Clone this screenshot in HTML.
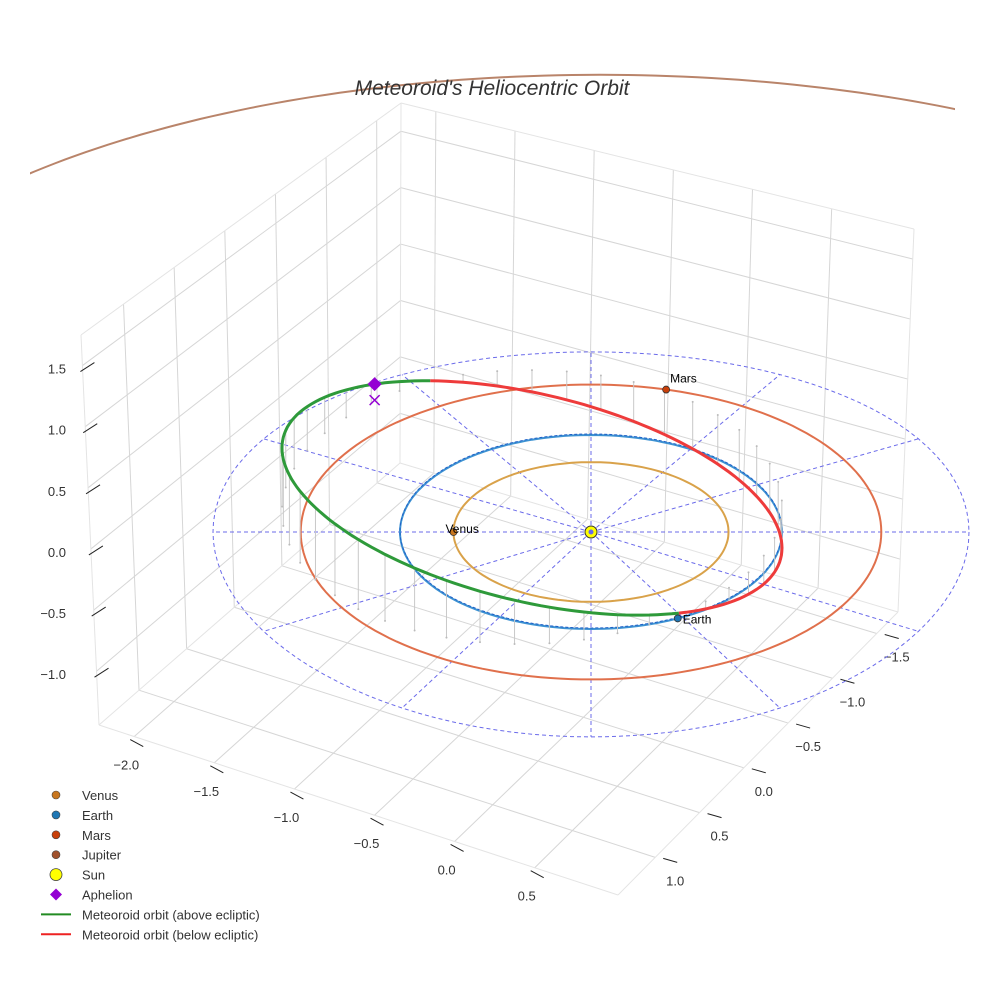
<!DOCTYPE html>
<html><head><meta charset="utf-8">
<style>
html,body{margin:0;padding:0;background:#fff;}
svg{display:block;font-family:"Liberation Sans",sans-serif;}
</style></head>
<body>
<svg id="chart" width="984" height="984" viewBox="0 0 984 984" xmlns="http://www.w3.org/2000/svg">
<rect width="984" height="984" fill="#fff"/>
<g id="grid"></g>
<g id="axes"></g>
<defs><clipPath id="jclip"><rect x="30" y="0" width="925" height="984"/></clipPath></defs>
<g id="marks"></g>
<text x="492" y="95" text-anchor="middle" font-size="21" font-style="italic" fill="#333">Meteoroid's Heliocentric Orbit</text>
<g id="legend"></g>
</svg>
<script>
// ---- data ----
const zTicks=[1.5,1.0,0.5,0.0,-0.5,-1.0];
const xTicks=[-2.0,-1.5,-1.0,-0.5,0.0,0.5];
const yTicks=[1.0,0.5,0.0,-0.5,-1.0,-1.5];
const xRange=[-2.22,1.02];
const yRange=[1.42,-1.74];
const zRange=[-1.44,1.75];
const orbitNames=['Venus','Earth','Mars'];
const orbitRadii=[0.72,1.0,1.52];
const planetAngles=[180,63,-75];
const jupiterRadius=[5.2];
const ringRadius=[2.0];
const spokeAngles=[0,30,60,90,120,150,180,210,240,270,300,330];
const meteorCenter=[-0.309,-0.351];
const meteorShape=[1.309,0.515,1.093];
const meteorNodes=[54,246];
const meteorZ=[0.6,-0.42];
const aphelionT=[231];

const NS='http://www.w3.org/2000/svg';
function el(tag,attrs,parent){const e=document.createElementNS(NS,tag);for(const k in attrs)e.setAttribute(k,attrs[k]);parent.appendChild(e);return e;}
const grid=document.getElementById('grid'),axes=document.getElementById('axes'),marks=document.getElementById('marks'),legend=document.getElementById('legend');

const L=[99,725],F=[618,895],R=[898,612],B=[400,463],Lt=[81,335],Bt=[401,103],Rt=[914,229];
function lerp(a,b,f){return [a[0]+(b[0]-a[0])*f,a[1]+(b[1]-a[1])*f];}
function frac(v,r){return (v-r[0])/(r[1]-r[0]);}
function line(a,b,st,parent,name){const e=el('line',{x1:a[0],y1:a[1],x2:b[0],y2:b[1],stroke:st.c,'stroke-width':st.w||1},parent);if(st.d)e.setAttribute('stroke-dasharray',st.d);


return e;}
const gs={c:'#d6d6d6',w:1};
xTicks.forEach(x=>{const f=frac(x,xRange);line(lerp(L,F,f),lerp(B,R,f),gs,grid,'floor-grid-x');});
yTicks.forEach(y=>{const f=frac(y,yRange);line(lerp(F,R,f),lerp(L,B,f),gs,grid,'floor-grid-y');});
yTicks.forEach(y=>{const f=frac(y,yRange);line(lerp(L,B,f),lerp(Lt,Bt,f),gs,grid,'left-wall-grid-y');});
xTicks.forEach(x=>{const f=frac(x,xRange);line(lerp(B,R,f),lerp(Bt,Rt,f),gs,grid,'right-wall-grid-x');});
zTicks.forEach(z=>{const f=frac(z,zRange);const a=lerp(L,Lt,f),b=lerp(B,Bt,f),c=lerp(R,Rt,f);line(a,b,gs,grid,'left-wall-grid-z');line(b,c,gs,grid,'right-wall-grid-z');});
const es={c:'#e4e4e4',w:1};
[[L,F],[F,R],[L,B],[B,R],[L,Lt],[B,Bt],[R,Rt],[Lt,Bt],[Bt,Rt]].forEach(p=>line(p[0],p[1],es,grid,'box-edge'));

function label(x,y,txt,anchor,name){const t=el('text',{x:x,y:y,'font-size':13,fill:'#333','text-anchor':anchor},axes);t.textContent=txt;

}
function fmt(v){return (v<0?'\u2212':'')+Math.abs(v).toFixed(1);}
zTicks.forEach(z=>{const f=frac(z,zRange);const p=lerp(L,Lt,f);line([p[0]-2,p[1]+6],[p[0]+12,p[1]-3],{c:'#222',w:1},axes,'z-tick');label(66,p[1]+8,fmt(z),'end','z-tick-label');});
xTicks.forEach(x=>{const f=frac(x,xRange);const p=lerp(L,F,f);line([p[0]-4,p[1]+3],[p[0]+9,p[1]+10],{c:'#222',w:1},axes,'x-tick');label(p[0]-8,p[1]+33,fmt(x),'middle','x-tick-label');});
yTicks.forEach(y=>{const f=frac(y,yRange);const p=lerp(F,R,f);line([p[0]+8,p[1]+1],[p[0]+22,p[1]+5],{c:'#222',w:1},axes,'y-tick');label(p[0]+20,p[1]+28,fmt(y),'middle','y-tick-label');});

const SX=591,SY=532,KU=191,KV=97,KZ=120;
function P(u,v){return [SX+KU*u,SY+KV*v];}
const rad=d=>d*Math.PI/180;
function pathFrom(pts){return pts.map((p,i)=>(i?'L':'M')+p[0].toFixed(1)+' '+p[1].toFixed(1)).join(' ');}

const ringPt=(r,t)=>{const s=r*Math.sin(rad(t));return [SX+189*r*Math.cos(rad(t)),SY+96.25*s+3.1*s*s];};
{const pts=[];for(let t=0;t<=360;t+=3)pts.push(ringPt(ringRadius[0],t));
const e=el('path',{d:pathFrom(pts),fill:'none',stroke:'#6b6bea','stroke-width':1,'stroke-dasharray':'4 3'},marks);

}
spokeAngles.forEach(a=>{line([SX,SY],ringPt(ringRadius[0],a),{c:'#6b6bea',w:1,d:'4 3'},marks,'ecliptic-spoke');});

{const r=jupiterRadius[0];const pts=[];for(let t=180;t<=360;t+=1)pts.push([600+153.8*r*Math.cos(rad(t)),405+63.5*r*Math.sin(rad(t))]);
const e=el('path',{d:pathFrom(pts),fill:'none',stroke:'#b9846a','stroke-width':2,'clip-path':'url(#jclip)'},marks);

}

const orbitColors=['#d9a24a','#3d92d2','#e0704c'];
orbitRadii.forEach((r,i)=>{const pts=[];for(let t=0;t<=360;t+=2)pts.push(P(r*Math.cos(rad(t)),r*Math.sin(rad(t))));
const e=el('path',{d:pathFrom(pts),fill:'none',stroke:orbitColors[i],'stroke-width':2},marks);


if(i===1){const e2=el('path',{d:pathFrom(pts),fill:'none',stroke:'#2060c8','stroke-width':1,'stroke-dasharray':'3 2',transform:'translate(0,-1)'},marks);

}
});

function mp(t){const c=Math.cos(rad(t)),s=Math.sin(rad(t));
return P(meteorCenter[0]+meteorShape[0]*c, meteorCenter[1]+meteorShape[1]*c+meteorShape[2]*s);}
function mz(t){const n0=meteorNodes[0],n1=meteorNodes[1];if(t>=n0&&t<=n1)return meteorZ[0]*Math.sin(Math.PI*(t-n0)/(n1-n0));const tt=t<n0?t+360:t;return meteorZ[1]*Math.sin(Math.PI*(tt-n1)/(n0+360-n1));}
for(let t=meteorNodes[0]+8;t<meteorNodes[0]+360-4;t+=8){const p=mp(t%360),z=mz(t%360);if(Math.abs(z*KZ)<4)continue;
line(p,[p[0],p[1]+z*KZ],{c:'#c8c8c8',w:1},marks,'drop-line');
const d=el('circle',{cx:p[0],cy:p[1]+z*KZ,r:1,fill:'#bbb'},marks);

}
{const g=[];for(let t=meteorNodes[0];t<=meteorNodes[1];t+=2)g.push(mp(t));
const e=el('path',{d:pathFrom(g),fill:'none',stroke:'#2e9a3a','stroke-width':3},marks);


const r=[];for(let t=meteorNodes[1];t<=meteorNodes[0]+360;t+=2)r.push(mp(t%360));
const e2=el('path',{d:pathFrom(r),fill:'none',stroke:'#ee3b3b','stroke-width':3},marks);

}

{const p=mp(aphelionT[0]);
const d=el('path',{d:`M${p[0]} ${p[1]-7} L${p[0]+7} ${p[1]} L${p[0]} ${p[1]+7} L${p[0]-7} ${p[1]} Z`,fill:'#9400d3'},marks);


const x=el('path',{d:`M${p[0]-5} ${p[1]+11} L${p[0]+5} ${p[1]+21} M${p[0]+5} ${p[1]+11} L${p[0]-5} ${p[1]+21}`,stroke:'#9400d3','stroke-width':1.5},marks);

}

const planetColors=['#c8761e','#1f77b4','#c8400a'];
orbitRadii.forEach((r,i)=>{const p=P(r*Math.cos(rad(planetAngles[i])),r*Math.sin(rad(planetAngles[i])));
const c=el('circle',{cx:p[0],cy:p[1],r:3.5,fill:planetColors[i],stroke:'#333','stroke-width':0.8},marks);


const off=i===0?[-8,1]:(i===1?[5,5]:[4,-7]);
const t=el('text',{x:p[0]+off[0],y:p[1]+off[1],'font-size':12,fill:'#000'},marks);t.textContent=orbitNames[i];

});
{const s=el('circle',{cx:SX,cy:SY,r:6,fill:'#ffff00',stroke:'#333','stroke-width':1},marks);


const s2=el('circle',{cx:SX,cy:SY,r:2.5,fill:'#6b6bea'},marks);

}

const legNames=['Venus','Earth','Mars','Jupiter','Sun','Aphelion','Meteoroid orbit (above ecliptic)','Meteoroid orbit (below ecliptic)'];
const legColors=['#c8761e','#1f77b4','#c8400a','#a0522d','#ffff00','#9400d3','#228b22','#ee2222'];
legNames.forEach((n,i)=>{const y=795+i*19.9;const g=el('g',{},legend);


if(i<4)el('circle',{cx:56,cy:y,r:4,fill:legColors[i],stroke:'#444','stroke-width':0.6},g);
else if(i===4)el('circle',{cx:56,cy:y,r:6,fill:legColors[i],stroke:'#444','stroke-width':0.8},g);
else if(i===5)el('path',{d:`M56 ${y-6} L62 ${y} L56 ${y+6} L50 ${y} Z`,fill:legColors[i]},g);
else el('line',{x1:41,y1:y,x2:71,y2:y,stroke:legColors[i],'stroke-width':2},g);
const t=el('text',{x:82,y:y+5,'font-size':13,fill:'#333'},g);t.textContent=n;});
</script>
</body></html>
